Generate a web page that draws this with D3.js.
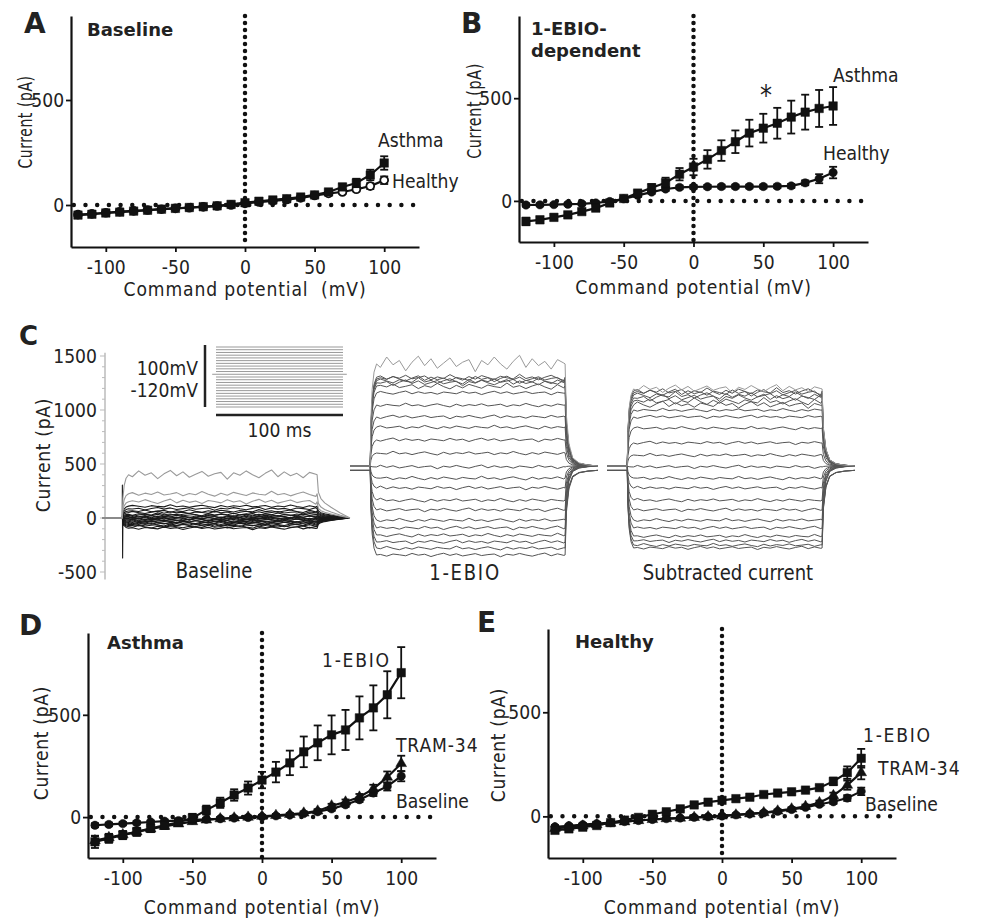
<!DOCTYPE html>
<html>
<head>
<meta charset="utf-8">
<script src="https://cdn.jsdelivr.net/npm/d3@7"></script>
<style>
  body { margin: 0; background: #fff; }
  text { font-family: "DejaVu Sans", Verdana, sans-serif; fill: #222; }
</style>
</head>
<body>
<svg id="fig" width="981" height="920"></svg>
<script>

// command potentials (mV) used in every I-V panel and in the step protocol
var voltages = [-120,-110,-100,-90,-80,-70,-60,-50,-40,-30,-20,-10,0,10,20,30,40,50,60,70,80,90,100];
var xTicks = [-100, -50, 0, 50, 100];
var yTicks = [0, 500];
var cTicks = [1500, 1000, 500, 0, -500];

// panel A - baseline
var aAsthma    = [-48,-44,-38,-34,-29,-25,-20,-16,-12,-8,-4,3,11,18,24,30,38,48,62,86,105,143,200];
var aAsthmaErr = [8,7,6,6,5,5,5,5,5,5,5,6,6,6,6,7,8,10,12,15,20,25,32];
var aHealthy    = [-46,-42,-37,-32,-28,-24,-20,-16,-13,-9,-5,0,8,14,20,26,34,45,55,62,75,90,118];
var aHealthyErr = [6,6,5,5,5,5,4,4,4,4,4,4,5,5,5,5,6,7,8,9,10,14,18];

// panel B - 1-EBIO dependent
var bAsthma    = [-100,-92,-80,-68,-52,-35,-10,12,38,64,88,130,165,202,245,288,330,354,378,408,432,450,462];
var bAsthmaErr = [18,15,14,12,12,12,12,10,12,18,25,30,40,45,50,55,65,70,75,80,85,90,92];
var bHealthy    = [-20,-19,-18,-16,-14,-10,-3,10,27,43,58,66,68,69,70,70,70,70,71,73,88,108,138];
var bHealthyErr = [8,7,7,7,7,7,7,7,8,8,9,9,9,9,9,9,9,9,9,10,12,22,28];

// panel D - asthma
var dEbio    = [-121,-104,-88,-72,-55,-40,-25,-4,34,70,108,142,181,220,265,319,363,402,426,485,534,598,706];
var dEbioErr = [30,22,20,20,18,18,18,20,22,25,28,32,40,50,60,75,85,95,98,105,110,115,125];
var dTram    = [-115,-100,-86,-72,-58,-45,-33,-22,-14,-8,-4,0,4,8,13,20,30,55,74,98,138,195,262];
var dTramErr = [22,18,16,14,12,10,10,9,8,8,7,7,7,7,7,8,9,10,12,15,20,28,38];
var dBase    = [-40,-36,-32,-28,-24,-20,-17,-14,-11,-8,-5,-2,2,6,10,17,26,40,60,85,118,150,200];
var dBaseErr = [10,9,8,8,7,7,6,6,6,6,6,6,6,6,6,7,8,9,10,12,15,20,25];

// panel E - healthy
var eEbio    = [-67,-60,-52,-44,-30,-18,-5,10,22,36,55,68,77,85,92,105,112,118,126,138,168,210,279];
var eEbioErr = [12,10,10,9,9,8,8,8,8,8,8,9,9,9,9,9,10,10,10,12,18,30,45];
var eTram    = [-58,-52,-46,-40,-33,-26,-20,-15,-11,-8,-5,-2,2,7,12,18,26,36,48,66,100,150,210];
var eTramErr = [10,9,9,8,8,7,7,7,6,6,6,6,6,6,6,6,7,8,9,10,14,22,32];
var eBase    = [-50,-45,-40,-35,-30,-25,-20,-15,-11,-8,-5,-2,2,7,12,17,24,33,43,58,70,88,120];
var eBaseErr = [8,7,7,7,6,6,6,6,6,6,6,6,6,6,6,6,6,7,8,9,10,14,18];

// panel C - steady current of each sweep (pA), -120 mV sweep first
var cBaseLevels = [-95,-80,-70,-60,-50,-42,-35,-28,-20,-12,-5,0,8,15,25,35,50,65,85,110,150,225,400];
var cEbioLevels = [-824,-759,-704,-639,-574,-500,-407,-315,-204,-111,-9,120,241,361,454,565,676,741,770,790,805,822,945];
var cSubLevels  = [-759,-731,-694,-648,-574,-500,-407,-315,-204,-111,-9,102,213,352,454,519,565,602,630,657,676,694,713];
var wiggle = [0.3,-0.6,0.5,0.1,-0.4,0.8,-0.1,0.4,-0.8,0.2,0.9,-0.2,0.6,-0.5,0.1,0.7,-0.3,0.2,0.5,-0.9,0.4,-0.1,0.8,0.0,-0.6,0.3,1.0,-0.4,0.6,-0.2];
var onsetT = [0.5, 1.5, 3, 5];
var onsetF = [0.45, 0.75, 0.92, 1];
var tailT = [155, 157, 160, 165, 172, 180];
var tailF = [0.5, 0.22, 0.08, 0.03, 0.01, 0];
var tailFBase = [0.6, 0.45, 0.35, 0.25, 0.12, 0];

var FS = 20, SX = 0.86;
var svg = d3.select("#fig");
svg.append("rect").attr("width", 981).attr("height", 920).attr("fill", "#fff");

// text helper, glyphs are a bit narrow in the original
function label(g, x, y, s, o) {
  o = o || {};
  var sx = o.sx || (o.bold ? 1 : SX);
  return g.append("text")
    .attr("transform", "translate(" + x + "," + y + ")" + (o.rot ? " rotate(-90)" : "") + " scale(" + sx + ",1)")
    .attr("text-anchor", o.anchor || "start")
    .attr("font-size", o.size || FS)
    .attr("font-weight", o.bold ? "bold" : null)
    .attr("letter-spacing", o.ls || null)
    .attr("dy", o.dy || null)
    .style("white-space", "pre")
    .text(s);
}

function makeIV(p) {
  var g = svg.append("g");
  var x = d3.scaleLinear().domain([-125, 125]).range(p.xr);
  var y = d3.scaleLinear().domain([-200, 900]).range(p.yr);

  // dotted zero lines
  g.append("line")
    .attr("x1", x(-123)).attr("x2", x(125)).attr("y1", y(0)).attr("y2", y(0))
    .attr("stroke", "#111").attr("stroke-width", 4.5)
    .attr("stroke-linecap", "round").attr("stroke-dasharray", "0,11.7");
  g.append("line")
    .attr("x1", x(0)).attr("x2", x(0)).attr("y1", y(900)).attr("y2", y(-200))
    .attr("stroke", "#111").attr("stroke-width", 4.5)
    .attr("stroke-linecap", "round").attr("stroke-dasharray", "0,7");

  // axes, plain hyphen for negatives like the original
  var fmt = function(d) { return String(d); };
  var gx = g.append("g")
    .attr("transform", "translate(0," + y(-200) + ")")
    .call(d3.axisBottom(x).tickValues(xTicks).tickSize(5).tickSizeOuter(0).tickPadding(8).tickFormat(fmt));
  var gy = g.append("g")
    .attr("transform", "translate(" + x(-125) + ",0)")
    .call(d3.axisLeft(y).tickValues(yTicks).tickSize(5).tickSizeOuter(0).tickPadding(3).tickFormat(fmt));
  [gx, gy].forEach(function(a) {
    a.attr("font-size", FS).attr("font-family", null);
    a.select(".domain").attr("stroke", "#111").attr("stroke-width", 2.2);
    a.selectAll(".tick line").attr("stroke", "#111").attr("stroke-width", 1.8);
    a.selectAll(".tick text").attr("fill", "#222").attr("transform", "scale(" + SX + ",1)");
  });

  var line = d3.line()
    .x(function(d) { return x(d[0]); })
    .y(function(d) { return y(d[1]); });

  p.series.forEach(function(s) {
    var pts = voltages.map(function(v, i) { return [v, s.vals[i], s.err[i]]; });
    var sg = g.append("g");
    // error bars
    pts.forEach(function(d) {
      var x0 = x(d[0]), y1 = y(d[1] + d[2]), y2 = y(d[1] - d[2]);
      sg.append("line").attr("x1", x0).attr("x2", x0).attr("y1", y1).attr("y2", y2)
        .attr("stroke", "#111").attr("stroke-width", 1.8);
      [y1, y2].forEach(function(yy) {
        sg.append("line").attr("x1", x0 - 4).attr("x2", x0 + 4).attr("y1", yy).attr("y2", yy)
          .attr("stroke", "#111").attr("stroke-width", 1.8);
      });
    });
    sg.append("path").datum(pts).attr("d", line)
      .attr("fill", "none").attr("stroke", "#111").attr("stroke-width", 2.2);
    var sym = { square: d3.symbolSquare, circle: d3.symbolCircle, open: d3.symbolCircle, triangle: d3.symbolTriangle }[s.sym];
    var size = { square: 72, circle: 55, open: 48, triangle: 50 }[s.sym];
    sg.selectAll(".m").data(pts).enter().append("path")
      .attr("transform", function(d) { return "translate(" + x(d[0]) + "," + y(d[1]) + ")"; })
      .attr("d", d3.symbol().type(sym).size(size))
      .attr("fill", s.sym === "open" ? "#fff" : "#111")
      .attr("stroke", "#111").attr("stroke-width", s.sym === "open" ? 1.8 : 0.5);
  });

  // titles
  label(g, p.letter[1], p.letter[2], p.letter[0], { bold: true, size: 28 });
  p.heads.forEach(function(h) { label(g, h[1], h[2], h[0], { bold: true, size: 18 }); });
  label(g, x(0), p.xTitleY, p.xTitle, { anchor: "middle", ls: 1 });
  label(g, p.yTitle[0], p.yTitle[1], "Current (pA)", { rot: true, anchor: "middle", dy: "0.35em", sx: p.yTitle[2], ls: 0.8 });
  p.names.forEach(function(n) { label(g, n[1], n[2], n[0], { ls: n[3] || 0, size: n[4] || FS }); });
}

makeIV({
  xr: [71, 419], yr: [247, 16],
  series: [
    { vals: aHealthy, err: aHealthyErr, sym: "open" },
    { vals: aAsthma, err: aAsthmaErr, sym: "square" }
  ],
  letter: ["A", 24, 33], heads: [["Baseline", 87, 36]],
  xTitle: "Command potential  (mV)", xTitleY: 296,
  yTitle: [25, 122, 0.7],
  names: [["Asthma", 378, 147], ["Healthy", 392, 188]]
});

makeIV({
  xr: [519, 868], yr: [242, 16],
  series: [
    { vals: bHealthy, err: bHealthyErr, sym: "circle" },
    { vals: bAsthma, err: bAsthmaErr, sym: "square" }
  ],
  letter: ["B", 461, 33], heads: [["1-EBIO-", 531, 35], ["dependent", 531, 57]],
  xTitle: "Command potential (mV)", xTitleY: 294,
  yTitle: [474, 111, 0.72],
  names: [["Asthma", 833, 82], ["Healthy", 823, 160], ["*", 760, 105, 0, 28]]
});

makeIV({
  xr: [88, 436], yr: [858, 633],
  series: [
    { vals: dBase, err: dBaseErr, sym: "circle" },
    { vals: dTram, err: dTramErr, sym: "triangle" },
    { vals: dEbio, err: dEbioErr, sym: "square" }
  ],
  letter: ["D", 19, 635], heads: [["Asthma", 107, 649]],
  xTitle: "Command potential (mV)", xTitleY: 914,
  yTitle: [41, 743, SX],
  names: [["1-EBIO", 322, 667, 2], ["TRAM-34", 396, 752, 1], ["Baseline", 396, 808]]
});

makeIV({
  xr: [548, 896], yr: [858, 629],
  series: [
    { vals: eBase, err: eBaseErr, sym: "circle" },
    { vals: eTram, err: eTramErr, sym: "triangle" },
    { vals: eEbio, err: eEbioErr, sym: "square" }
  ],
  letter: ["E", 477, 632], heads: [["Healthy", 575, 648]],
  xTitle: "Command potential (mV)", xTitleY: 914,
  yTitle: [498, 745, SX],
  names: [["1-EBIO", 863, 742, 2], ["TRAM-34", 878, 775, 1], ["Baseline", 865, 811]]
});

// ---------- panel C: current traces ----------
var gc = svg.append("g");
var yC = d3.scaleLinear().domain([-500, 1500]).range([572, 356]);

// current axis (grey, with minor ticks)
gc.append("line").attr("x1", 105).attr("x2", 105).attr("y1", yC(-570)).attr("y2", yC(1530))
  .attr("stroke", "#aaa").attr("stroke-width", 1.2);
d3.range(-500, 1501, 100).forEach(function(v) {
  gc.append("line").attr("x1", v % 500 === 0 ? 100 : 102).attr("x2", 105)
    .attr("y1", yC(v)).attr("y2", yC(v)).attr("stroke", "#bbb").attr("stroke-width", 1);
});
cTicks.forEach(function(v) {
  label(gc, 97, yC(v), String(v), { anchor: "end", dy: "0.35em" });
});
label(gc, 43, 455, "Current (pA)", { rot: true, anchor: "middle", dy: "0.35em", ls: 0.8 });
label(gc, 19, 345, "C", { bold: true, size: 26 });

function drawTraces(levels, xr, zeroY, o) {
  var tx = d3.scaleLinear().domain([-16, 180]).range(xr);
  var ty = d3.scaleLinear().domain([0, 1000]).range([zeroY, zeroY - 108]);
  var line = d3.line().x(function(d) { return tx(d[0]); }).y(function(d) { return ty(d[1]); });
  var g = gc.append("g");
  levels.forEach(function(lv, i) {
    var top = i === levels.length - 1;
    var hold = o.lowHold && i < 3 ? -40 : 0;
    var amp = top ? o.topNoise : (lv > o.bunchAt ? o.bunchNoise : o.noise);
    var sign = i % 2 ? -1 : 1;
    var pts = [[-16, hold], [0, hold]];
    if (o.spike && i === 0) { pts.push([0.1, 305]); pts.push([0.3, -370]); }
    onsetT.forEach(function(t, k) { pts.push([t, hold + (lv - hold) * onsetF[k]]); });
    wiggle.forEach(function(w, k) {
      pts.push([8 + k * 5, lv + sign * amp * wiggle[(k + i * 7) % wiggle.length]]);
    });
    pts.push([154, lv]);
    var tf = o.baseTail ? tailFBase : tailF;
    tailT.forEach(function(t, k) { pts.push([t, hold + (lv - hold) * tf[k]]); });
    g.append("path").datum(pts).attr("d", line)
      .attr("fill", "none")
      .attr("stroke", top || i >= levels.length - o.lightTop ? "#999" : o.color)
      .attr("stroke-width", o.width)
      .attr("stroke-linejoin", "round");
  });
}

drawTraces(cBaseLevels, [102, 350], 518,
  { noise: 14, bunchAt: 130, bunchNoise: 25, topNoise: 45, color: "#1a1a1a", width: 1.1, lightTop: 3, spike: true, baseTail: true });
drawTraces(cEbioLevels, [350, 598], 466,
  { noise: 18, bunchAt: 700, bunchNoise: 30, topNoise: 80, color: "#555", width: 1, lightTop: 1, lowHold: true });
drawTraces(cSubLevels, [607, 855], 466,
  { noise: 16, bunchAt: 550, bunchNoise: 35, topNoise: 40, color: "#555", width: 1, lightTop: 0, lowHold: true });

label(gc, 214, 578, "Baseline", { anchor: "middle", size: 21 });
label(gc, 465, 580, "1-EBIO", { anchor: "middle", size: 21, ls: 2 });
label(gc, 728, 580, "Subtracted current", { anchor: "middle", size: 21 });

// inset: voltage step protocol
var px = d3.scaleLinear().domain([0, 100]).range([216, 343]);
var pv = d3.scaleLinear().domain([-120, 100]).range([407, 347]);
voltages.forEach(function(v) {
  gc.append("line").attr("x1", px(0)).attr("x2", px(100)).attr("y1", pv(v)).attr("y2", pv(v))
    .attr("stroke", "#999").attr("stroke-width", 1);
});
gc.append("line").attr("x1", px(-3)).attr("x2", px(0)).attr("y1", pv(0)).attr("y2", pv(0)).attr("stroke", "#999");
gc.append("line").attr("x1", px(100)).attr("x2", px(103)).attr("y1", pv(0)).attr("y2", pv(0)).attr("stroke", "#999");
gc.append("line").attr("x1", 205).attr("x2", 205).attr("y1", 345).attr("y2", 407)
  .attr("stroke", "#222").attr("stroke-width", 2.5);
gc.append("line").attr("x1", px(0)).attr("x2", px(100)).attr("y1", 415).attr("y2", 415)
  .attr("stroke", "#222").attr("stroke-width", 2.5);
label(gc, 198, 375, "100mV", { anchor: "end" });
label(gc, 198, 397, "-120mV", { anchor: "end" });
label(gc, px(50), 437, "100 ms", { anchor: "middle" });

</script>
</body>
</html>
